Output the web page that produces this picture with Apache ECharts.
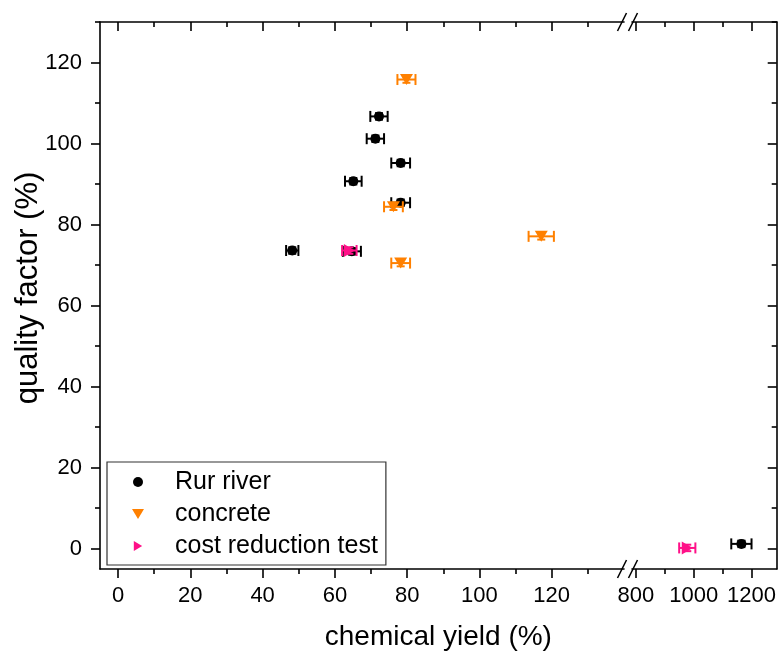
<!DOCTYPE html>
<html><head><meta charset="utf-8">
<script src="https://cdn.jsdelivr.net/npm/echarts@6/dist/echarts.min.js"></script>
<style>html,body{margin:0;padding:0;background:#fff}#c{width:779px;height:655px}</style>
</head><body><div id="c"></div>
<script>
// ---- data ----
const rurX = [72.2, 71.2, 78.2, 65.1, 78.2, 48.2, 64.7];
const rurY = [106.7, 101.2, 95.2, 90.7, 85.4, 73.6, 73.4];
const rurXErr = [2.4, 2.4, 2.6, 2.3, 2.6, 1.7, 2.5];
const rurYErr = [0.8, 0.8, 0.8, 0.8, 0.8, 0.8, 0.8];
const rurHiX = [1165];
const rurHiY = [1.2];
const rurHiXErr = [35];
const rurHiYErr = [0.8];

const concX = [79.8, 76.2, 78.2, 117.1];
const concY = [115.8, 84.4, 70.5, 77.1];
const concXErr = [2.5, 2.6, 2.6, 3.5];
const concYErr = [0.8, 0.8, 0.8, 0.8];

const costX = [64.0];
const costY = [73.6];
const costXErr = [2.0];
const costYErr = [0.8];
const costHiX = [978];
const costHiY = [0.2];
const costHiXErr = [28];
const costHiYErr = [0.8];

const xMajorLow = [0, 20, 40, 60, 80, 100, 120];
const xMinorLow = [10, 30, 50, 70, 90, 110, 130];
const xMajorHigh = [800, 1000, 1200];
const xMinorHigh = [900, 1100];
const yMajor = [0, 20, 40, 60, 80, 100, 120];
const yMinor = [10, 30, 50, 70, 90, 110, 130];

const seriesNames = ['Rur river', 'concrete', 'cost reduction test'];
const colors = ['#000000', '#FF8000', '#FF1088'];
const xTitle = 'chemical yield (%)';
const yTitle = 'quality factor (%)';

// ---- chart ----
const FONT = '"Liberation Sans", Arial, sans-serif';
const chart = echarts.init(document.getElementById('c'), null, {renderer: 'canvas'});
const LW = 1.6;
const EW = 2;
const lineStyle = {color: '#000', width: LW};
const fmt = v => String(v);

function xAxes(gridIndex, min, max, major, minor, labels) {
  const base = {type: 'value', gridIndex, min, max, splitLine: {show: false}};
  return [
    Object.assign({}, base, {position: 'bottom',
      axisLine: {show: true, onZero: false, lineStyle},
      axisTick: {show: true, inside: false, length: 9, customValues: major, lineStyle},
      axisLabel: {show: labels, customValues: major, formatter: fmt, margin: 16, fontSize: 22, fontFamily: FONT, color: '#000'}}),
    Object.assign({}, base, {position: 'bottom',
      axisLine: {show: false, onZero: false},
      axisTick: {show: true, inside: false, length: 5, customValues: minor, lineStyle},
      axisLabel: {show: false}}),
    Object.assign({}, base, {position: 'top',
      axisLine: {show: true, onZero: false, lineStyle},
      axisTick: {show: true, inside: true, length: 9, customValues: major, lineStyle},
      axisLabel: {show: false}}),
    Object.assign({}, base, {position: 'top',
      axisLine: {show: false, onZero: false},
      axisTick: {show: true, inside: true, length: 5, customValues: minor, lineStyle},
      axisLabel: {show: false}})
  ];
}

const yBase = {type: 'value', min: -5, max: 130, splitLine: {show: false}};
const yAxes = [
  Object.assign({}, yBase, {gridIndex: 0, position: 'left',
    axisLine: {show: true, onZero: false, lineStyle},
    axisTick: {show: true, inside: false, length: 9, customValues: yMajor, lineStyle},
    axisLabel: {show: true, customValues: yMajor, formatter: fmt, margin: 18, fontSize: 22, fontFamily: FONT, color: '#000'}}),
  Object.assign({}, yBase, {gridIndex: 0, position: 'left',
    axisLine: {show: false, onZero: false},
    axisTick: {show: true, inside: false, length: 5, customValues: yMinor, lineStyle},
    axisLabel: {show: false}}),
  Object.assign({}, yBase, {gridIndex: 1, position: 'right',
    axisLine: {show: true, onZero: false, lineStyle},
    axisTick: {show: true, inside: true, length: 9, customValues: yMajor, lineStyle},
    axisLabel: {show: false}}),
  Object.assign({}, yBase, {gridIndex: 1, position: 'right',
    axisLine: {show: false, onZero: false},
    axisTick: {show: true, inside: true, length: 5, customValues: yMinor, lineStyle},
    axisLabel: {show: false}})
];

function errSeries(name, xs, ys, xe, ye, color, xi, yi, z) {
  return {
    type: 'custom', name: name + ' err', xAxisIndex: xi, yAxisIndex: yi, z, silent: true,
    data: xs.map((x, i) => [x, ys[i], xe[i], ye[i]]),
    encode: {x: 0, y: 1},
    renderItem: (params, api) => {
      const x = api.value(0), y = api.value(1), ex = api.value(2), ey = api.value(3);
      const l = api.coord([x - ex, y]), r = api.coord([x + ex, y]), c = api.coord([x, y]);
      const t = api.coord([x, y + ey]), b = api.coord([x, y - ey]);
      const style = {stroke: color, lineWidth: EW, fill: null};
      const cap = 5.5, cw = 4;
      return {type: 'group', children: [
        {type: 'line', shape: {x1: l[0], y1: l[1], x2: r[0], y2: r[1]}, style},
        {type: 'line', shape: {x1: l[0], y1: l[1] - cap, x2: l[0], y2: l[1] + cap}, style},
        {type: 'line', shape: {x1: r[0], y1: r[1] - cap, x2: r[0], y2: r[1] + cap}, style},
        {type: 'line', shape: {x1: c[0], y1: t[1], x2: c[0], y2: b[1]}, style},
        {type: 'line', shape: {x1: c[0] - cw, y1: t[1], x2: c[0] + cw, y2: t[1]}, style},
        {type: 'line', shape: {x1: c[0] - cw, y1: b[1], x2: c[0] + cw, y2: b[1]}, style}
      ]};
    }
  };
}

const symCircle = 'circle';
const symDown = 'path://M0,0 L12,0 L6,10 Z';
const symRight = 'path://M0,0 L10,6 L0,12 Z';

function scat(name, xs, ys, color, symbol, size, xi, yi, z) {
  return {type: 'scatter', name, xAxisIndex: xi, yAxisIndex: yi, z, symbol, symbolSize: size,
    itemStyle: {color, opacity: 1}, silent: true,
    data: xs.map((x, i) => [x, ys[i]])};
}

const option = {
  animation: false,
  backgroundColor: '#fff',
  grid: [
    {left: 100, top: 22, width: 524, height: 547},
    {left: 632, top: 22, width: 145, height: 547}
  ],
  xAxis: [].concat(
    xAxes(0, -5, 140, xMajorLow, xMinorLow, true),
    xAxes(1, 787, 1287, xMajorHigh, xMinorHigh, true)
  ),
  yAxis: yAxes,
  legend: {
    data: seriesNames, orient: 'vertical', left: 107, top: 462,
    padding: [6, 8, 5, 25], itemWidth: 42, itemHeight: 10, itemGap: 4,
    borderColor: '#333', borderWidth: 1.2, backgroundColor: '#fff',
    formatter: name => '{sp|}' + name,
    textStyle: {fontSize: 25, fontFamily: FONT, color: '#000', lineHeight: 28,
      rich: {sp: {width: 11}}},
    selectedMode: false
  },
  series: [
    errSeries(seriesNames[0], rurX, rurY, rurXErr, rurYErr, colors[0], 0, 0, 2),
    scat(seriesNames[0], rurX, rurY, colors[0], symCircle, 10, 0, 0, 3),
    errSeries(seriesNames[0] + ' hi', rurHiX, rurHiY, rurHiXErr, rurHiYErr, colors[0], 4, 2, 2),
    scat(seriesNames[0], rurHiX, rurHiY, colors[0], symCircle, 10, 4, 2, 3),
    errSeries(seriesNames[1], concX, concY, concXErr, concYErr, colors[1], 0, 0, 4),
    scat(seriesNames[1], concX, concY, colors[1], symDown, [13, 11], 0, 0, 5),
    errSeries(seriesNames[2], costX, costY, costXErr, costYErr, colors[2], 0, 0, 6),
    scat(seriesNames[2], costX, costY, colors[2], symRight, [11, 13], 0, 0, 7),
    errSeries(seriesNames[2] + ' hi', costHiX, costHiY, costHiXErr, costHiYErr, colors[2], 4, 2, 6),
    scat(seriesNames[2], costHiX, costHiY, colors[2], symRight, [11, 13], 4, 2, 7)
  ]
};
chart.setOption(option);

// axis titles and break marks
const xL = chart.convertToPixel({xAxisIndex: 0}, 140);
const xR = chart.convertToPixel({xAxisIndex: 4}, 787);
const xStart = chart.convertToPixel({xAxisIndex: 0}, -5);
const xEnd = chart.convertToPixel({xAxisIndex: 4}, 1287);
const yB = chart.convertToPixel({yAxisIndex: 0}, -5);
const yT = chart.convertToPixel({yAxisIndex: 0}, 130);
const slashes = [];
[yB, yT].forEach(y => {
  [xL - 2, xR + 1].forEach(x => {
    slashes.push({type: 'line', z: 100, shape: {x1: x - 4.5, y1: y + 9, x2: x + 4.5, y2: y - 9},
      style: {stroke: '#000', lineWidth: LW}});
  });
});
chart.setOption({graphic: slashes.concat([
  {type: 'text', z: 100, x: (xStart + xEnd) / 2, y: 637,
    style: {text: xTitle, font: '28px ' + FONT, fill: '#000', align: 'center', verticalAlign: 'middle'}},
  {type: 'text', z: 100, x: 28, y: 288, rotation: Math.PI / 2,
    style: {text: yTitle, font: '31px ' + FONT, fill: '#000', align: 'center', verticalAlign: 'middle'}}
])});
</script>
</body></html>
